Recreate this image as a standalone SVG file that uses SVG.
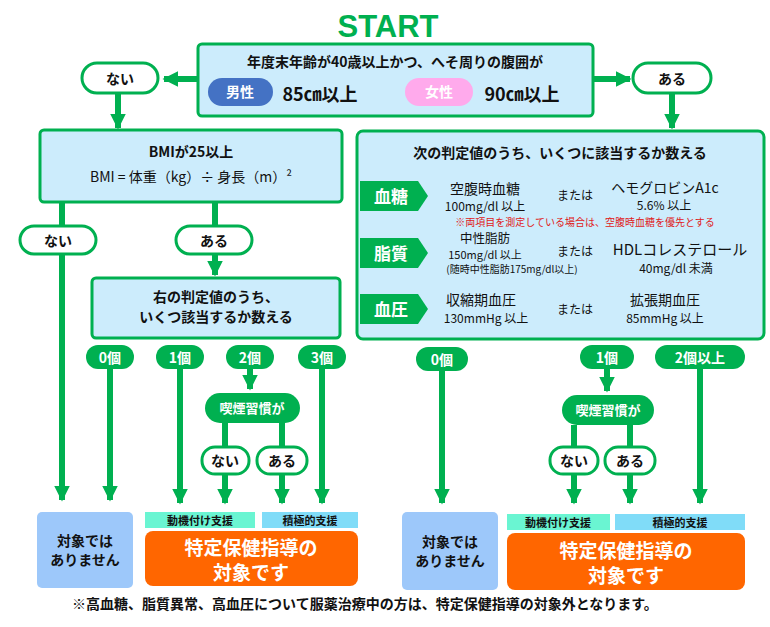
<svg xmlns="http://www.w3.org/2000/svg" width="770" height="627" viewBox="0 0 770 627">
<defs>
<marker id="ah" viewBox="0 0 10 10" refX="9" refY="5" markerWidth="2.6" markerHeight="2.6" orient="auto" markerUnits="strokeWidth"><path d="M0,0L10,5L0,10z" fill="#00b050"/></marker>
<style>
text{font-family:"Noto Sans CJK JP","Noto Sans",sans-serif;text-anchor:middle}
.b{font-weight:bold}
.box{fill:#ccecfc;stroke:#00b050;stroke-width:3}
.wp{fill:#fff;stroke:#00b050;stroke-width:3}
.gp{fill:#00b050}
.ln{stroke:#00b050;stroke-width:6;fill:none}
.ar{stroke:#00b050;stroke-width:6;fill:none;marker-end:url(#ah)}
.wt{fill:#fff;font-weight:bold}
.blk{fill:#111}
.chev{fill:#00b050}
</style>
</defs>
<text x="388" y="37" font-size="31" class="b" fill="#00b050" style="font-family:'Liberation Sans',sans-serif">START</text>

<g id="connectors">
<path class="ar" d="M198,79H164"/>
<path class="ar" d="M593,79H630"/>
<path class="ar" d="M118,93V128"/>
<path class="ar" d="M672,93V128"/>
<path class="ar" d="M62,202V500"/>
<path class="ln" d="M215,202V226"/>
<path class="ar" d="M215,254V275"/>
<path class="ar" d="M110,369V500"/>
<path class="ar" d="M180,369V503"/>
<path class="ar" d="M250,369V389"/>
<path class="ar" d="M322,369V503"/>
<path class="ar" d="M225,423V503"/>
<path class="ar" d="M282,423V503"/>
<path class="ar" d="M442,371V503"/>
<path class="ar" d="M607,369V391"/>
<path class="ar" d="M700,369V503"/>
<path class="ar" d="M574,425V503"/>
<path class="ar" d="M630,425V503"/>
</g>

<g id="start">
<rect class="box" x="198" y="44" width="395" height="72" rx="4"/>
<text x="395" y="67" font-size="14" class="b blk">年度末年齢が40歳以上かつ、へそ周りの腹囲が</text>
<rect x="208" y="78" width="65" height="28" rx="14" fill="#4472c4"/>
<text x="240" y="97" font-size="14" class="wt">男性</text>
<text x="320" y="101" font-size="18" class="b blk">85㎝以上</text>
<rect x="405" y="78" width="68" height="28" rx="14" fill="#ffaaec"/>
<text x="439" y="97" font-size="14" class="wt">女性</text>
<text x="522" y="101" font-size="18" class="b blk">90㎝以上</text>
</g>
<g id="nai0"><rect class="wp" x="82" y="63" width="76" height="30" rx="15"/><text x="120" y="84" font-size="14" class="b blk">ない</text></g>
<g id="aru0"><rect class="wp" x="633" y="63" width="78" height="30" rx="15"/><text x="672" y="84" font-size="14" class="b blk">ある</text></g>

<g id="bmi">
<rect class="box" x="40" y="130" width="302" height="72" rx="4"/>
<text x="191" y="157" font-size="14" class="b blk">BMIが25以上</text>
<text x="191" y="182" font-size="14" class="blk">BMI = 体重（kg）÷ 身長（m）²</text>
</g>
<g id="nai1"><rect class="wp" x="20" y="226" width="76" height="28" rx="14"/><text x="58" y="246" font-size="14" class="b blk">ない</text></g>
<g id="aru1"><rect class="wp" x="176" y="226" width="76" height="28" rx="14"/><text x="214" y="246" font-size="14" class="b blk">ある</text></g>
<g id="count2">
<rect class="box" x="92" y="278" width="248" height="60" rx="4"/>
<text x="216" y="302" font-size="14" class="b blk">右の判定値のうち、</text>
<text x="216" y="322" font-size="14" class="b blk">いくつ該当するか数える</text>
</g>

<g id="judge">
<rect class="box" x="357" y="131" width="407" height="208" rx="6"/>
<text x="560" y="158" font-size="14" class="b blk">次の判定値のうち、いくつに該当するか数える</text>
<path class="chev" d="M360,181H418L428,196L418,211H360z"/><text x="391" y="203" font-size="17" class="wt">血糖</text>
<path class="chev" d="M360,238H418L428,253L418,268H360z"/><text x="391" y="260" font-size="17" class="wt">脂質</text>
<path class="chev" d="M360,294H418L428,309L418,324H360z"/><text x="391" y="316" font-size="17" class="wt">血圧</text>
<g class="blk">
<text x="485" y="194" font-size="14">空腹時血糖</text>
<text x="485" y="211" font-size="12">100mg/dl 以上</text>
<text x="575" y="200" font-size="12">または</text>
<text x="665" y="193" font-size="14">ヘモグロビンA1c</text>
<text x="664" y="210" font-size="12">5.6% 以上</text>
<text x="485" y="243" font-size="12.5">中性脂肪</text>
<text x="485" y="259" font-size="11">150mg/dl 以上</text>
<text x="512" y="273" font-size="10">(随時中性脂肪175mg/dl以上)</text>
<text x="575" y="256" font-size="12">または</text>
<text x="680" y="255" font-size="15">HDLコレステロール</text>
<text x="676" y="273" font-size="12">40mg/dl 未満</text>
<text x="481" y="305" font-size="14">収縮期血圧</text>
<text x="486" y="323" font-size="12">130mmHg 以上</text>
<text x="575" y="314" font-size="12">または</text>
<text x="665" y="305" font-size="14">拡張期血圧</text>
<text x="665" y="323" font-size="12">85mmHg 以上</text>
</g>
<text x="585" y="226" font-size="10" fill="#e02020">※両項目を測定している場合は、空腹時血糖を優先とする</text>
</g>

<g id="c0l"><rect class="gp" x="86" y="345" width="48" height="24" rx="12"/><text x="110" y="363" font-size="14" class="wt">0個</text></g>
<g id="c1l"><rect class="gp" x="156" y="345" width="48" height="24" rx="12"/><text x="180" y="363" font-size="14" class="wt">1個</text></g>
<g id="c2l"><rect class="gp" x="226" y="345" width="48" height="24" rx="12"/><text x="250" y="363" font-size="14" class="wt">2個</text></g>
<g id="c3l"><rect class="gp" x="298" y="345" width="48" height="24" rx="12"/><text x="322" y="363" font-size="14" class="wt">3個</text></g>
<g id="smk1"><rect class="gp" x="205" y="393" width="95" height="30" rx="15"/><text x="252" y="413" font-size="13" class="wt">喫煙習慣が</text></g>
<g id="nai2"><rect class="wp" x="202" y="447" width="47" height="27" rx="13"/><text x="225" y="466" font-size="14" class="b blk">ない</text></g>
<g id="aru2"><rect class="wp" x="257" y="447" width="50" height="27" rx="13"/><text x="282" y="466" font-size="14" class="b blk">ある</text></g>

<g id="c0r"><rect class="gp" x="416" y="347" width="52" height="24" rx="12"/><text x="442" y="365" font-size="14" class="wt">0個</text></g>
<g id="c1r"><rect class="gp" x="580" y="345" width="54" height="24" rx="12"/><text x="607" y="363" font-size="14" class="wt">1個</text></g>
<g id="c2r"><rect class="gp" x="655" y="345" width="90" height="24" rx="12"/><text x="700" y="363" font-size="14" class="wt">2個以上</text></g>
<g id="smk2"><rect class="gp" x="562" y="395" width="92" height="30" rx="15"/><text x="608" y="415" font-size="13" class="wt">喫煙習慣が</text></g>
<g id="nai3"><rect class="wp" x="550" y="447" width="48" height="27" rx="13"/><text x="574" y="466" font-size="14" class="b blk">ない</text></g>
<g id="aru3"><rect class="wp" x="605" y="447" width="50" height="27" rx="13"/><text x="630" y="466" font-size="14" class="b blk">ある</text></g>

<g id="resL">
<rect x="37" y="512" width="96" height="76" rx="5" fill="#9dc8fa"/>
<text x="85" y="546" font-size="14" class="b blk">対象では</text>
<text x="85" y="565" font-size="14" class="b blk">ありません</text>
<rect x="145" y="512" width="110" height="16" fill="#6af5d2"/>
<text x="200" y="525" font-size="11" class="b blk">動機付け支援</text>
<rect x="262" y="512" width="96" height="16" fill="#80dcf8"/>
<text x="310" y="525" font-size="11" class="b blk">積極的支援</text>
<rect x="145" y="531" width="213" height="55" rx="8" fill="#ff6600"/>
<text x="251" y="555" font-size="19" class="wt">特定保健指導の</text>
<text x="251" y="580" font-size="19" class="wt">対象です</text>
</g>
<g id="resR">
<rect x="402" y="512" width="96" height="78" rx="5" fill="#9dc8fa"/>
<text x="450" y="547" font-size="14" class="b blk">対象では</text>
<text x="450" y="566" font-size="14" class="b blk">ありません</text>
<rect x="507" y="514" width="103" height="16" fill="#6af5d2"/>
<text x="558" y="527" font-size="11" class="b blk">動機付け支援</text>
<rect x="615" y="514" width="130" height="16" fill="#80dcf8"/>
<text x="680" y="527" font-size="11" class="b blk">積極的支援</text>
<rect x="507" y="533" width="238" height="57" rx="8" fill="#ff6600"/>
<text x="626" y="558" font-size="19" class="wt">特定保健指導の</text>
<text x="626" y="583" font-size="19" class="wt">対象です</text>
</g>
<text x="365" y="609" font-size="14" class="b blk">※高血糖、脂質異常、高血圧について服薬治療中の方は、特定保健指導の対象外となります。</text>
</svg>
